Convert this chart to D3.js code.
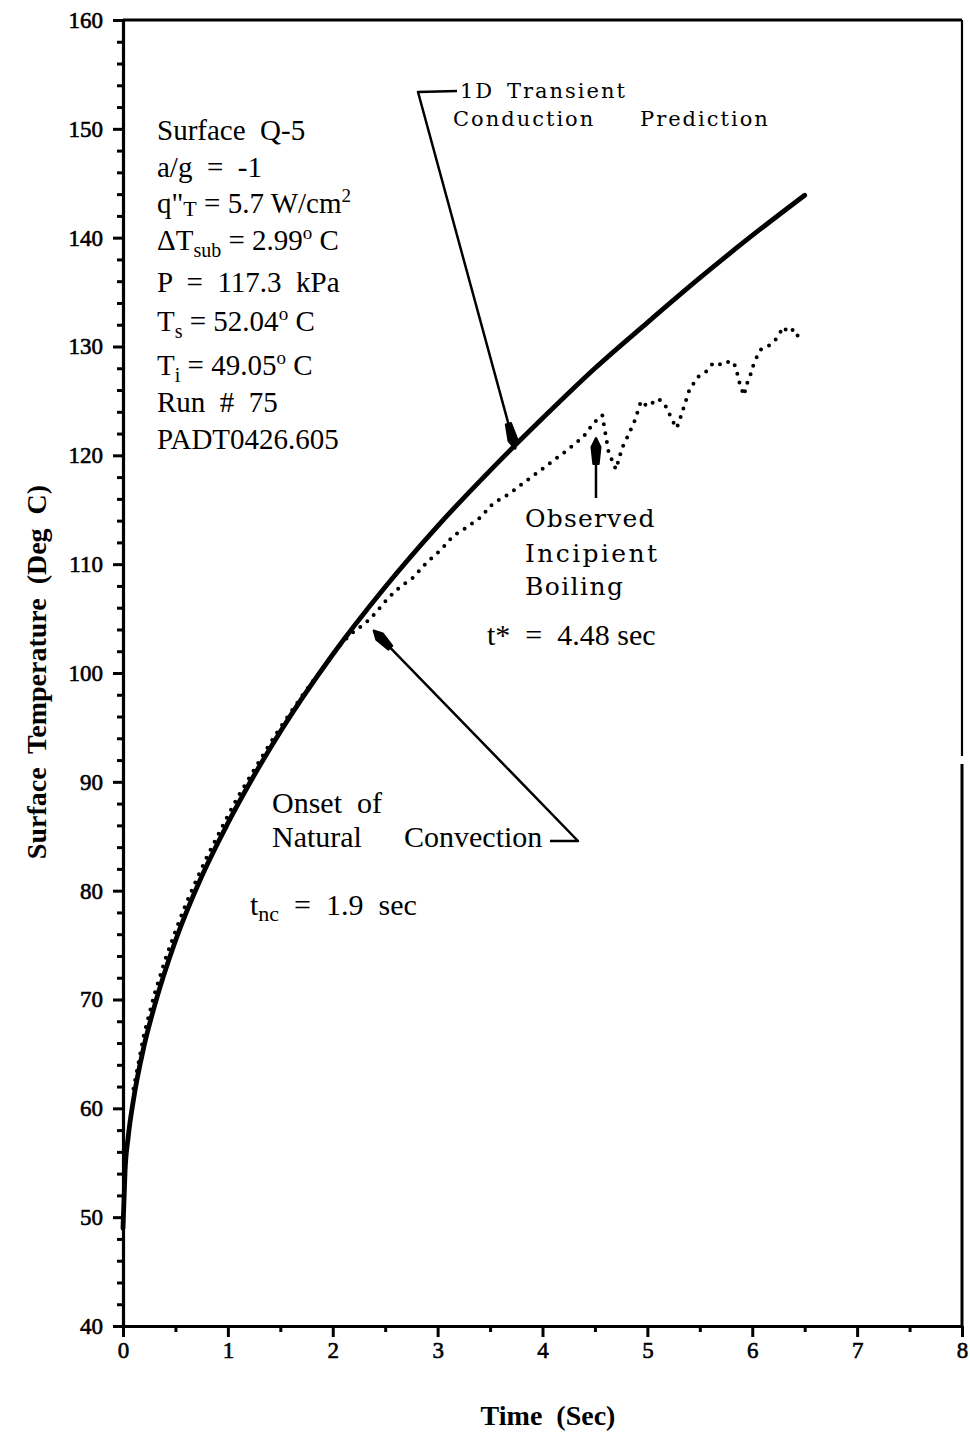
<!DOCTYPE html>
<html>
<head>
<meta charset="utf-8">
<script src="https://cdn.jsdelivr.net/npm/d3@7"></script>
<style>
  html, body { margin: 0; padding: 0; background: #fff; }
  svg text { font-family: "Liberation Serif", "Times New Roman", serif; fill: #000; white-space: pre; }
  svg text.mono { font-family: "DejaVu Serif", serif; }
</style>
</head>
<body>
<svg id="chart" width="970" height="1435"></svg>
<script>
// 1D transient conduction prediction (time in s, surface temperature in deg C)
const predTime = [0, 0.02, 0.05, 0.1, 0.2, 0.3, 0.5, 0.75, 1.0, 1.5, 2.0, 2.5, 3.0, 3.5, 4.0, 4.5, 5.0, 5.5, 6.0, 6.5];
const predTemp = [49.0, 54.3, 57.4, 60.8, 65.7, 69.4, 75.4, 81.3, 86.2, 94.6, 101.7, 107.9, 113.5, 118.6, 123.4, 128.0, 132.2, 136.3, 140.2, 143.9];

// Measured surface temperature
const obsTime = [0.1, 0.2, 0.3, 0.4, 0.5, 0.6, 0.7, 0.8, 0.9, 1.0, 1.1, 1.2, 1.3, 1.4, 1.5, 1.6, 1.7, 1.8, 1.9, 2.0,
  2.1, 2.2, 2.3, 2.36, 2.45, 2.53, 2.64, 2.77, 2.9, 3.03, 3.15, 3.28, 3.41, 3.53, 3.69, 3.81, 3.95, 4.1, 4.24, 4.39,
  4.49, 4.57, 4.63, 4.70, 4.76, 4.82, 4.88, 4.94, 5.0, 5.06, 5.1, 5.16, 5.2, 5.25, 5.28, 5.32, 5.36, 5.4, 5.48, 5.56,
  5.63, 5.72, 5.79, 5.84, 5.88, 5.92, 5.95, 5.99, 6.02, 6.08, 6.16, 6.22, 6.3, 6.34, 6.4, 6.45];
const obsTemp = [61.8, 66.8, 70.5, 73.6, 76.3, 78.8, 81.0, 83.1, 85.0, 86.9, 88.7, 90.3, 91.9, 93.5, 95.0, 96.4, 97.8, 99.1, 100.4, 101.7,
  102.9, 103.8, 104.5, 105.0, 106.0, 106.9, 107.9, 108.8, 110.2, 111.3, 112.6, 113.4, 114.3, 115.6, 116.5, 117.4, 118.4, 119.5, 120.5, 121.7,
  123.0, 123.7, 120.3, 118.7, 120.7, 121.9, 123.2, 125.0, 124.5, 124.9, 125.2, 124.8, 124.0, 123.0, 122.5, 123.6, 124.8, 126.0, 127.2, 127.7,
  128.5, 128.3, 128.7, 128.2, 126.6, 125.5, 126.6, 127.6, 128.6, 129.7, 130.1, 130.6, 131.8, 131.3, 131.6, 130.7];

// Axis ticks
const xMajor = [0, 1, 2, 3, 4, 5, 6, 7, 8];
const xMinor = [0.5, 1.5, 2.5, 3.5, 4.5, 5.5, 6.5, 7.5];
const yMajor = [40, 50, 60, 70, 80, 90, 100, 110, 120, 130, 140, 150, 160];
const yMinor = d3.range(42, 160, 2).filter(v => v % 10 !== 0);

const svg = d3.select("#chart");
const x = d3.scaleLinear().domain([0, 8]).range([123, 962]);
const y = d3.scaleLinear().domain([40, 160]).range([1326, 20]);

// ---- axes ----
const gY = svg.append("g").attr("transform", `translate(${x(0)},0)`);
gY.call(d3.axisLeft(y).tickValues(yMajor).tickSize(10).tickSizeOuter(0).tickPadding(10).tickFormat(d3.format("d")));
gY.append("g").call(d3.axisLeft(y).tickValues(yMinor).tickSize(6).tickFormat(""))
  .select(".domain").remove();

const gX = svg.append("g").attr("transform", `translate(0,${y(40)})`);
gX.call(d3.axisBottom(x).tickValues(xMajor).tickSize(11).tickSizeOuter(0).tickPadding(5).tickFormat(d3.format("d")));
gX.append("g").call(d3.axisBottom(x).tickValues(xMinor).tickSize(6).tickFormat(""))
  .select(".domain").remove();

svg.selectAll(".domain").attr("stroke", "#000").attr("stroke-width", 3.2);
svg.selectAll(".tick line").attr("stroke", "#000").attr("stroke-width", 3);
svg.selectAll(".tick text")
  .style("font-family", "'Liberation Serif', serif").style("font-size", "23px")
  .style("fill", "#000").style("stroke", "#000").style("stroke-width", "0.6px");

// frame: top and right edges
svg.append("line").attr("x1", x(0)).attr("x2", x(8)).attr("y1", y(160)).attr("y2", y(160))
  .attr("stroke", "#000").attr("stroke-width", 3);
svg.append("line").attr("x1", x(8)).attr("x2", x(8)).attr("y1", y(160)).attr("y2", 756)
  .attr("stroke", "#000").attr("stroke-width", 2.2);
svg.append("line").attr("x1", x(8)).attr("x2", x(8)).attr("y1", 764).attr("y2", y(40))
  .attr("stroke", "#000").attr("stroke-width", 3);

// axis titles
svg.append("text").attr("x", 548).attr("y", 1425).attr("text-anchor", "middle")
  .attr("font-size", 28).attr("font-weight", "bold").text("Time  (Sec)");
svg.append("text").attr("transform", "translate(46,672) rotate(-90)").attr("text-anchor", "middle")
  .attr("font-size", 28).attr("font-weight", "bold").text("Surface  Temperature  (Deg  C)");

// ---- series ----
const pred = predTime.map((t, i) => [t, predTemp[i]]);
const obs = obsTime.map((t, i) => [t, obsTemp[i]]);

svg.append("path").datum(obs)
  .attr("d", d3.line().x(d => x(d[0])).y(d => y(d[1])))
  .attr("fill", "none").attr("stroke", "#000").attr("stroke-width", 4)
  .attr("stroke-linecap", "round").attr("stroke-dasharray", "0 9");

svg.append("path").datum(pred)
  .attr("d", d3.line().curve(d3.curveMonotoneX).x(d => x(d[0])).y(d => y(d[1])))
  .attr("fill", "none").attr("stroke", "#000").attr("stroke-width", 4.8)
  .attr("stroke-linecap", "round");

// ---- annotations ----
function arrowHead(tx, ty, fx, fy, len, hw) {
  const dx = fx - tx, dy = fy - ty, L = Math.hypot(dx, dy);
  const ux = dx / L, uy = dy / L, px = -uy, py = ux;
  const bx = tx + ux * len, by = ty + uy * len;
  svg.append("path")
    .attr("d", `M${tx},${ty} L${tx + ux * len * 0.35 + px * hw},${ty + uy * len * 0.35 + py * hw} L${bx + px * hw * 0.6},${by + py * hw * 0.6} L${bx - px * hw * 0.6},${by - py * hw * 0.6} L${tx + ux * len * 0.35 - px * hw},${ty + uy * len * 0.35 - py * hw} Z`)
    .attr("fill", "#000").attr("stroke", "#000").attr("stroke-width", 2).attr("stroke-linejoin", "round");
}
function leader(points) {
  svg.append("path").attr("d", d3.line()(points)).attr("fill", "none")
    .attr("stroke", "#000").attr("stroke-width", 2.5).attr("stroke-linejoin", "round");
}

// prediction label and leader
const predTip = [x(3.74), y(120.6)];
leader([[457, 91], [418, 92], predTip]);
arrowHead(predTip[0], predTip[1], 418, 92, 26, 4.5);
const p1 = svg.append("text").attr("class", "mono").attr("y", 98).attr("font-size", 21).attr("letter-spacing", 2);
p1.append("tspan").attr("x", 460).text("1D");
p1.append("tspan").attr("x", 507).text("Transient");
const p2 = svg.append("text").attr("class", "mono").attr("y", 126).attr("font-size", 21).attr("letter-spacing", 2);
p2.append("tspan").attr("x", 453).text("Conduction");
p2.append("tspan").attr("x", 640).text("Prediction");

// incipient boiling
const ibTip = [x(4.51), y(121.6)];
leader([[ibTip[0], 498], ibTip]);
arrowHead(ibTip[0], ibTip[1], ibTip[0], 498, 26, 4.5);
[["Observed", 527, 1.2], ["Incipient", 562, 2.4], ["Boiling", 595, 1.4]].forEach(([s, by, ls]) => {
  svg.append("text").attr("class", "mono").attr("x", 525).attr("y", by).attr("font-size", 25)
    .attr("letter-spacing", ls).text(s);
});
svg.append("text").attr("x", 487).attr("y", 645).attr("font-size", 30).text("t*  =  4.48 sec");

// natural convection
const ncTip = [x(2.39), y(103.9)];
leader([[550, 841], [578, 841], ncTip]);
arrowHead(ncTip[0], ncTip[1], 578, 841, 24, 4.5);
svg.append("text").attr("x", 272).attr("y", 813).attr("font-size", 30).text("Onset  of");
const nc = svg.append("text").attr("y", 847).attr("font-size", 30);
nc.append("tspan").attr("x", 272).text("Natural");
nc.append("tspan").attr("x", 404).text("Convection");
const tnc = svg.append("text").attr("x", 250).attr("y", 915).attr("font-size", 30);
tnc.append("tspan").text("t");
tnc.append("tspan").attr("font-size", 22).attr("dy", 6).text("nc");
tnc.append("tspan").attr("dy", -6).text("  =  1.9  sec");

// run parameters
const px0 = 157;
function paramLine(by, parts) {
  const t = svg.append("text").attr("x", px0).attr("y", by).attr("font-size", 29);
  let shift = 0;
  parts.forEach(([s, kind]) => {
    const sp = t.append("tspan").text(s);
    let target = 0;
    if (kind === "sub") { sp.attr("font-size", 20); target = 7; }
    if (kind === "sup") { sp.attr("font-size", 19); target = -11; }
    if (kind === "low") { sp.attr("font-size", 22); target = 3; }
    sp.attr("dy", target - shift);
    shift = target;
  });
}
paramLine(140, [["Surface  Q-5"]]);
paramLine(177, [["a/g  =  -1"]]);
paramLine(213, [["q\"", ""], ["T", "low"], [" = 5.7 W/cm", ""], ["2", "sup"]]);
paramLine(250, [["\u0394T", ""], ["sub", "sub"], [" = 2.99", ""], ["o", "sup"], [" C", ""]]);
paramLine(292, [["P  =  117.3  kPa"]]);
paramLine(331, [["T", ""], ["s", "sub"], [" = 52.04", ""], ["o", "sup"], [" C", ""]]);
paramLine(375, [["T", ""], ["i", "sub"], [" = 49.05", ""], ["o", "sup"], [" C", ""]]);
paramLine(412, [["Run  #  75"]]);
paramLine(449, [["PADT0426.605"]]);
</script>
</body>
</html>
